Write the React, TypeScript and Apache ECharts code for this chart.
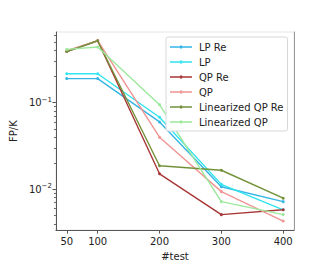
import React, { useEffect, useRef } from "react";
import * as echarts from "echarts";

const tests = [50, 100, 200, 300, 400];
const lpRe = [0.19, 0.19, 0.06, 0.0107, 0.0072];
const lp = [0.216, 0.216, 0.068, 0.0114, 0.0058];
const qpRe = [0.39, 0.52, 0.0151, 0.0051, 0.0058];
const qp = [0.4, 0.52, 0.04, 0.0094, 0.0043];
const linQpRe = [0.39, 0.52, 0.0187, 0.0166, 0.0079];
const linQp = [0.413, 0.44, 0.095, 0.0072, 0.0051];

const seriesNames = ["LP Re", "LP", "QP Re", "QP", "Linearized QP Re", "Linearized QP"];
const seriesValues = [lpRe, lp, qpRe, qp, linQpRe, linQp];
const seriesColors = ["#35b5e6", "#30e4f0", "#a83636", "#f09494", "#72923a", "#9ce89c"];

const xTicks = [50, 100, 200, 300, 400];
const yMajor = [0.01, 0.1];
const yMinor = [0.004, 0.005, 0.006, 0.007, 0.008, 0.009, 0.02, 0.03, 0.04, 0.05, 0.06, 0.07, 0.08, 0.09, 0.2, 0.3, 0.4, 0.5, 0.6];

const legendIcon = "path://M0,1 H22 V2.4 H0 Z M10,0.2 H12.2 V3.2 H10 Z";

export default function App() {
  const ref = useRef<HTMLDivElement>(null);
  useEffect(() => {
    const chart = echarts.init(ref.current!, null, { renderer: "svg" });
    const font = "DejaVu Sans";
    const yMin = 0.00338;
    const yMax = 0.656;
    chart.setOption({
      animation: false,
      backgroundColor: "#fff",
      textStyle: { fontFamily: font },
      grid: { left: 41, right: 33, top: 32, bottom: 29, show: true, borderColor: "#e6e6e6", borderWidth: 1 },
      xAxis: {
        type: "value",
        min: 32.5,
        max: 417.5,
        name: "#test",
        nameLocation: "middle",
        nameGap: 16,
        nameTextStyle: { fontFamily: font, fontSize: 10, color: "#222" },
        axisLine: { show: true, lineStyle: { color: "#555", width: 1 } },
        axisTick: { show: true, length: 3.5, lineStyle: { color: "#555" }, customValues: xTicks },
        axisLabel: { fontFamily: font, fontSize: 10, color: "#222", margin: 6, customValues: xTicks },
        splitLine: { show: false },
      },
      yAxis: [
        {
          type: "log",
          logBase: 10,
          min: yMin,
          max: yMax,
          name: "FP/K",
          nameLocation: "middle",
          nameGap: 28,
          nameTextStyle: { fontFamily: font, fontSize: 10, color: "#222" },
          axisLine: { show: true, lineStyle: { color: "#555", width: 1 } },
          axisTick: { show: true, length: 3.5, lineStyle: { color: "#555" }, customValues: yMajor },
          axisLabel: {
            customValues: yMajor,
            margin: 4,
            formatter: (v: number) => `{b|10}{s|−${Math.round(-Math.log10(v))}}`,
            rich: {
              b: { fontFamily: font, fontSize: 10, color: "#222" },
              s: { fontFamily: font, fontSize: 7, color: "#222", padding: [0, 0, 6, 0] },
            },
          },
          splitLine: { show: false },
        },
        {
          type: "log",
          logBase: 10,
          min: yMin,
          max: yMax,
          position: "left",
          axisLine: { show: false },
          axisTick: { show: true, length: 2, lineStyle: { color: "#666" }, customValues: yMinor },
          axisLabel: { show: false },
          splitLine: { show: false },
        },
        {
          type: "log",
          logBase: 10,
          min: yMin,
          max: yMax,
          position: "right",
          axisLine: { show: true, lineStyle: { color: "#999", width: 1 } },
          axisTick: { show: false },
          axisLabel: { show: false },
          splitLine: { show: false },
        },
      ],
      legend: {
        orient: "vertical",
        left: 166,
        top: 37,
        padding: [4, 4, 3, 4],
        itemGap: 3,
        itemWidth: 22,
        itemHeight: 3.2,
        icon: legendIcon,
        backgroundColor: "#fff",
        borderColor: "#d8d8d8",
        borderWidth: 1,
        borderRadius: 2,
        textStyle: { fontFamily: font, fontSize: 10, color: "#222", padding: [0, 0, 0, 2], lineHeight: 12 },
        data: seriesNames,
      },
      series: seriesNames.map((name, i) => ({
        name,
        type: "line",
        yAxisIndex: 0,
        data: tests.map((t, j) => [t, seriesValues[i][j]]),
        symbol: "circle",
        symbolSize: 3,
        showSymbol: true,
        lineStyle: { color: seriesColors[i], width: 1.4 },
        itemStyle: { color: seriesColors[i] },
        emphasis: { disabled: true },
      })),
    });
    return () => chart.dispose();
  }, []);
  return <div ref={ref} style={{ position: "fixed", left: 0, top: 0, width: 327, height: 266 }} />;
}
